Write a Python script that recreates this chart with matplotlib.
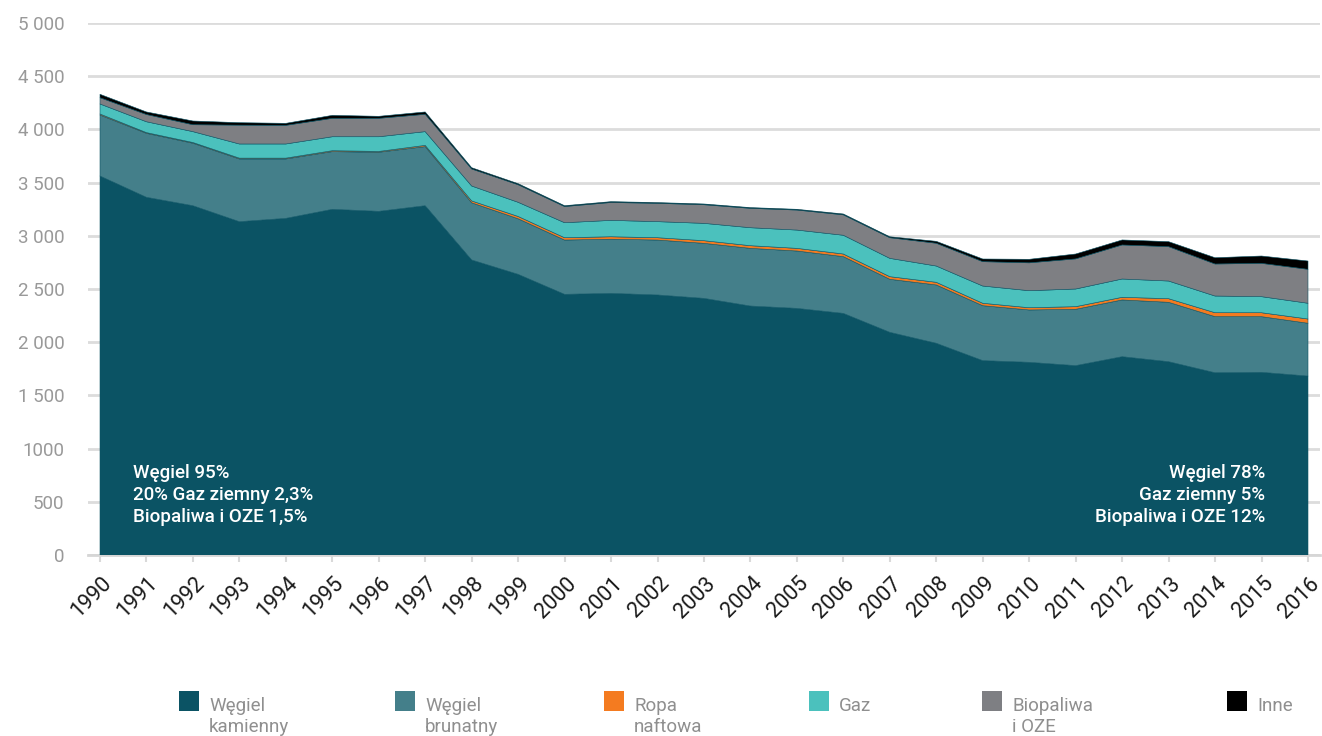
import numpy as np
import matplotlib
matplotlib.use("Agg")
import matplotlib.pyplot as plt
from matplotlib.patches import Rectangle
import matplotlib.transforms as mtransforms

# ---------------- data ----------------
years = list(range(1990, 2017))
wegiel_kamienny = [3562, 3362, 3283, 3133, 3164, 3249, 3230, 3283, 2773, 2638,
                   2450, 2459, 2444, 2412, 2340, 2318, 2271, 2093, 1990, 1827,
                   1811, 1780, 1864, 1817, 1713, 1717, 1682]
wegiel_brunatny = [573, 601, 587, 589, 558, 542, 555, 555, 537, 522,
                   510, 509, 516, 517, 542, 539, 533, 498, 548, 516,
                   492, 529, 533, 558, 527, 523, 496]
ropa_naftowa = [10, 7, 7, 8, 8, 9, 8, 12, 18, 22,
                22, 23, 22, 25, 25, 25, 25, 25, 25, 23,
                21, 25, 25, 34, 37, 37, 40]
gaz = [94, 102, 102, 133, 133, 131, 138, 129, 140, 133,
       141, 154, 151, 163, 169, 172, 176, 172, 153, 162,
       160, 166, 172, 166, 157, 151, 148]
biopaliwa_oze = [59, 68, 65, 177, 175, 173, 173, 163, 160, 165,
                 152, 168, 172, 175, 182, 188, 192, 194, 214, 229,
                 262, 283, 320, 323, 301, 313, 319]
inne = [32, 24, 35, 23, 19, 28, 19, 22, 12, 10,
        8, 8, 7, 7, 7, 7, 8, 9, 18, 25,
        33, 46, 47, 47, 59, 69, 78]

series_labels = ["Węgiel\nkamienny", "Węgiel\nbrunatny", "Ropa\nnaftowa",
                 "Gaz", "Biopaliwa\ni OZE", "Inne"]
colors = ["#0b5364", "#447f8a", "#f47b20", "#4bc1bd", "#7e7f83", "#000000"]

ytick_vals = [0, 500, 1000, 1500, 2000, 2500, 3000, 3500, 4000, 4500, 5000]
ytick_labels = ["0", "500", "1000", "1 500", "2 000", "2 500", "3 000",
                "3 500", "4 000", "4 500", "5 000"]

left_note = ["Węgiel 95%", "20% Gaz ziemny 2,3%", "Biopaliwa i OZE 1,5%"]
right_note = ["Węgiel 78%", "Gaz ziemny 5%", "Biopaliwa i OZE 12%"]

# ---------------- figure ----------------
W, H = 1322, 736
fig = plt.figure(figsize=(W / 100, H / 100), dpi=100)
FONT = ["Roboto", "DejaVu Sans"]


def fx(x):
    return x / W


def fy(y):
    return 1 - y / H


ax = fig.add_axes([fx(88), fy(555), (1320 - 88) / W, (555 - 23) / H])
step = (1308 - 100) / 26
ax.set_xlim(1990 - 12 / step, 2016 + 12 / step)
ax.set_ylim(0, 5000)

ax.stackplot(years, wegiel_kamienny, wegiel_brunatny, ropa_naftowa, gaz,
             biopaliwa_oze, inne, colors=colors, linewidth=0.4,
             edgecolors=colors, zorder=3)

# grid
ax.set_yticks(ytick_vals)
ax.set_yticklabels(ytick_labels)
ax.yaxis.grid(True, color="#dcdcdc", linewidth=2, zorder=0)
ax.set_axisbelow(True)
ax.tick_params(axis="y", length=0, pad=17, labelsize=13.5, labelcolor="#999999")
for lbl in ax.get_yticklabels():
    lbl.set_family(FONT)

for s in ["top", "right", "left"]:
    ax.spines[s].set_visible(False)
ax.spines["bottom"].set_color("#d6d6d6")
ax.spines["bottom"].set_linewidth(2)
ax.spines["bottom"].set_zorder(1)

ax.set_xticks(years)
ax.set_xticklabels([str(y) for y in years])
ax.tick_params(axis="x", length=5, width=1.5, color="#d9d9d9", pad=8,
               labelsize=15.5, labelcolor="#1a1a1a")
offset = mtransforms.ScaledTranslation(1 / 100, 0, fig.dpi_scale_trans)
for lbl in ax.get_xticklabels():
    lbl.set_rotation(45)
    lbl.set_ha("right")
    lbl.set_va("top")
    lbl.set_rotation_mode("anchor")
    lbl.set_family(FONT)
    lbl.set_fontweight("normal")
    lbl.set_transform(lbl.get_transform() + offset)

# annotations
baselines = [478, 500.5, 522.5]
for t, b in zip(left_note, baselines):
    fig.text(fx(133), fy(b), t, color="white", fontsize=13.5, fontweight="medium",
             family=FONT, ha="left", va="baseline", zorder=10)
for t, b in zip(right_note, baselines):
    fig.text(fx(1265), fy(b), t, color="white", fontsize=13.5, fontweight="medium",
             family=FONT, ha="right", va="baseline", zorder=10)

# legend
leg_x = [179, 395, 604, 809, 982, 1227]
for x, lab, c in zip(leg_x, series_labels, colors):
    fig.patches.append(Rectangle((fx(x), fy(711)), 20 / W, 20 / H,
                                 transform=fig.transFigure, facecolor=c,
                                 edgecolor="none"))
    lines = lab.split("\n")
    for i, ln in enumerate(lines):
        fig.text(fx(x + 30), fy(711 + 21 * i), ln, color="#8f8f8f",
                 fontsize=13.5, family=FONT, ha="left", va="baseline")

fig.savefig("out.png", dpi=100, facecolor="white")
